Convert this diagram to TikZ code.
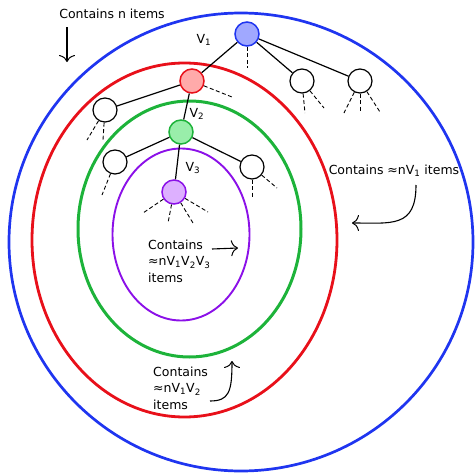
\documentclass[tikz,border=0pt]{standalone}
\usepackage{fontspec}
\setmainfont{DejaVu Sans}
\usetikzlibrary{arrows.meta}

\definecolor{ringblue}{HTML}{1F35F0}
\definecolor{ringred}{HTML}{E8101A}
\definecolor{ringgreen}{HTML}{1DB33A}
\definecolor{ringpurple}{HTML}{8B10E8}
\definecolor{fillblue}{HTML}{A0A8FF}
\definecolor{fillred}{HTML}{FFAAAA}
\definecolor{fillgreen}{HTML}{99EEAA}
\definecolor{fillpurple}{HTML}{DDB0FF}

\tikzset{
  ring/.style={line width=#1},
  vertex/.style={circle, draw, line width=1.2pt, minimum size=24pt, inner sep=0pt, fill=white},
  bluevertex/.style={vertex, draw=ringblue, fill=fillblue, line width=1.5pt},
  redvertex/.style={vertex, draw=ringred, fill=fillred, line width=1.5pt},
  greenvertex/.style={vertex, draw=ringgreen, fill=fillgreen, line width=1.5pt},
  purplevertex/.style={vertex, draw=ringpurple, fill=fillpurple, line width=1.5pt},
  treeedge/.style={line width=1.2pt},
  stub/.style={line width=0.9pt, dash pattern=on 4pt off 2.5pt},
  note/.style={inner sep=0pt, align=left, font=\fontsize{12.5}{16.5}\selectfont},
  vlabel/.style={inner sep=0pt, font=\fontsize{12.5}{15}\selectfont},
  pointer/.style={line width=1.1pt, -{Computer Modern Rightarrow[length=7pt,width=16pt,line width=1pt]}},
}

\begin{document}
\begin{tikzpicture}[x=1pt, y=-1pt]
  \useasboundingbox (0,0) rectangle (475,474);

  % nested regions
  \draw[ring=2.7pt, ringblue]   (241,242)   ellipse [x radius=232pt, y radius=229pt];
  \draw[ring=2.8pt, ringred]    (184.5,240) ellipse [x radius=152.5pt, y radius=177pt];
  \draw[ring=3pt,   ringgreen]  (189.5,229) ellipse [x radius=111.5pt, y radius=128pt];
  \draw[ring=1.9pt, ringpurple] (181,234.5) ellipse [x radius=68.5pt, y radius=86pt];

  % tree vertices
  \node[bluevertex]   (vb) at (247,34)  {};
  \node[redvertex]    (vr) at (192,81)  {};
  \node[greenvertex]  (vg) at (181,132) {};
  \node[purplevertex] (vp) at (174,192) {};
  \node[vertex] (wa) at (302,81)  {};
  \node[vertex] (wb) at (360,81)  {};
  \node[vertex] (wc) at (105,110) {};
  \node[vertex] (wd) at (115,162) {};
  \node[vertex] (we) at (252,167) {};

  % tree edges
  \draw[treeedge] (vb) -- (vr);
  \draw[treeedge] (vb) -- (wa);
  \draw[treeedge] (vb) -- (wb);
  \draw[treeedge] (vr) -- (wc);
  \draw[treeedge] (vr) -- (vg);
  \draw[treeedge] (vg) -- (wd);
  \draw[treeedge] (vg) -- (we);
  \draw[treeedge] (vg) -- (vp);

  % unexplored children
  \draw[stub] (vb.-90)   -- (247,68);
  \draw[stub] (vr.-22)   -- (232,97);
  \draw[stub] (wa.-85)   -- (305,113);
  \draw[stub] (wa.-51)   -- (324,108);
  \draw[stub] (wb.-117)  -- (344,113);
  \draw[stub] (wb.-90)   -- (360,113);
  \draw[stub] (wb.-57)   -- (380,112);
  \draw[stub] (wc.-121)  -- (87,140);
  \draw[stub] (wc.-94)   -- (103,140);
  \draw[stub] (wd.-111)  -- (102,195);
  \draw[stub] (we.-90)   -- (252,198);
  \draw[stub] (we.-40)   -- (277,188);
  \draw[stub] (vp.-146)  -- (143,213);
  \draw[stub] (vp.-101)  -- (168,223);
  \draw[stub] (vp.-58)   -- (193,223);
  \draw[stub] (vp.-30)   -- (208,212);

  % edge labels
  \node[vlabel] (l1) at (204,40)  {V\textsubscript{1}};
  \node[vlabel] (l2) at (197,114) {V\textsubscript{2}};
  \node[vlabel] (l3) at (193,168) {V\textsubscript{3}};

  % annotations
  \node[note] (tn) at (112,14) {Contains n items};
  \coordinate (tnA) at (67,27);
  \coordinate (tnB) at (67,62);
  \draw[pointer] (tnA) -- (tnB);

  \node[note] (t1) at (394,171) {Contains ≈nV\textsubscript{1} items};
  \coordinate (t1A) at (416,185);
  \coordinate (t1B) at (352,223);
  \draw[pointer] (t1A) .. controls (416,228) and (392,223) .. (t1B);

  \node[note, anchor=west] (t3) at (148,261) {Contains\\≈nV\textsubscript{1}V\textsubscript{2}V\textsubscript{3}\\items};
  \coordinate (t3A) at (212,249);
  \coordinate (t3B) at (238,248);
  \draw[pointer] (t3A) -- (t3B);

  \node[note, anchor=west] (t2) at (153,388) {Contains\\≈nV\textsubscript{1}V\textsubscript{2}\\items};
  \coordinate (t2A) at (210,401);
  \coordinate (t2B) at (232,361);
  \draw[pointer] (t2A) .. controls (229,401) and (232,392) .. (t2B);
\end{tikzpicture}
\end{document}
